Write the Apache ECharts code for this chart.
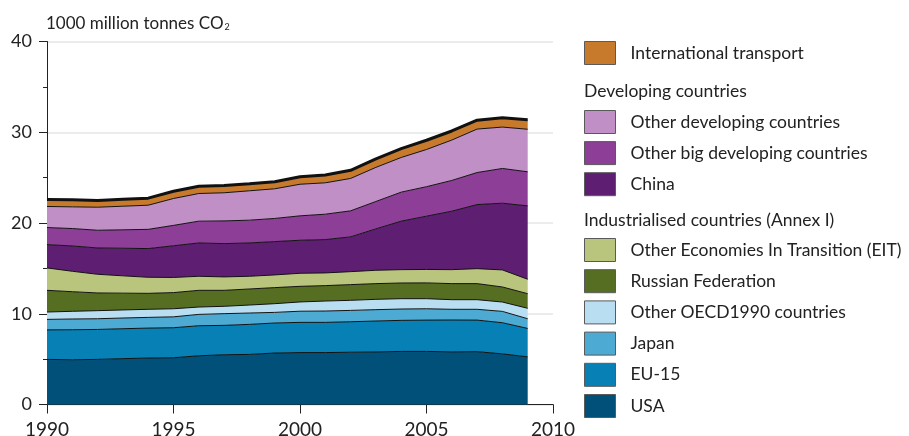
<!DOCTYPE html>
<html>
<head>
<meta charset="utf-8">
<script src="https://cdn.jsdelivr.net/npm/echarts@6/dist/echarts.min.js"></script>
<style>
  html, body { margin: 0; padding: 0; background: #ffffff; }
  #chart { width: 909px; height: 436px; }
</style>
</head>
<body>
<div id="chart"></div>
<script>
// Global CO2 emissions by region, 1000 million tonnes
var years = [1990, 1991, 1992, 1993, 1994, 1995, 1996, 1997, 1998, 1999,
             2000, 2001, 2002, 2003, 2004, 2005, 2006, 2007, 2008, 2009];
var axisEndYear = 2010;

var usa          = [4.97, 4.93, 4.97, 5.05, 5.12, 5.15, 5.37, 5.48, 5.52, 5.67, 5.72, 5.72, 5.76, 5.79, 5.85, 5.85, 5.80, 5.82, 5.58, 5.25];
var eu15         = [3.25, 3.31, 3.30, 3.30, 3.30, 3.31, 3.31, 3.24, 3.31, 3.31, 3.33, 3.33, 3.36, 3.41, 3.42, 3.45, 3.51, 3.48, 3.43, 3.13];
var japan        = [1.16, 1.18, 1.18, 1.18, 1.18, 1.20, 1.25, 1.29, 1.25, 1.17, 1.23, 1.25, 1.25, 1.25, 1.25, 1.25, 1.18, 1.19, 1.25, 1.07];
var otherOecd    = [0.81, 0.85, 0.89, 0.89, 0.89, 0.89, 0.81, 0.81, 0.88, 0.96, 1.02, 1.10, 1.11, 1.14, 1.14, 1.11, 1.06, 1.06, 1.03, 1.15];
var russia       = [2.39, 2.16, 1.95, 1.85, 1.76, 1.78, 1.84, 1.76, 1.77, 1.77, 1.72, 1.70, 1.73, 1.73, 1.73, 1.74, 1.77, 1.77, 1.66, 1.61];
var otherEit     = [2.47, 2.25, 2.06, 1.91, 1.77, 1.67, 1.55, 1.48, 1.40, 1.40, 1.44, 1.40, 1.43, 1.47, 1.47, 1.48, 1.54, 1.65, 1.88, 1.59];
var china        = [2.57, 2.79, 2.90, 3.04, 3.16, 3.49, 3.67, 3.67, 3.67, 3.67, 3.64, 3.67, 3.83, 4.56, 5.34, 5.87, 6.44, 7.06, 7.35, 8.09];
var otherBigDev  = [1.88, 1.92, 1.95, 2.03, 2.12, 2.25, 2.40, 2.50, 2.51, 2.55, 2.69, 2.80, 2.87, 3.02, 3.20, 3.25, 3.39, 3.53, 3.83, 3.75];
var otherDev     = [2.32, 2.39, 2.54, 2.60, 2.66, 2.96, 3.05, 3.10, 3.24, 3.27, 3.48, 3.46, 3.57, 3.76, 3.82, 4.10, 4.45, 4.79, 4.56, 4.69];
var intlTransport= [0.78, 0.77, 0.74, 0.76, 0.78, 0.80, 0.80, 0.80, 0.78, 0.78, 0.82, 0.86, 0.90, 0.94, 0.98, 1.02, 1.00, 0.98, 1.04, 1.05];

var yTicks = [0, 10, 20, 30, 40];

// stacking order: bottom to top
var layers = [
  { name: 'USA', values: usa, color: '#00507a' },
  { name: 'EU-15', values: eu15, color: '#0780b6' },
  { name: 'Japan', values: japan, color: '#4daad3' },
  { name: 'Other OECD1990 countries', values: otherOecd, color: '#b9def2' },
  { name: 'Russian Federation', values: russia, color: '#566e22' },
  { name: 'Other Economies In Transition (EIT)', values: otherEit, color: '#b9c47d' },
  { name: 'China', values: china, color: '#5e1f73' },
  { name: 'Other big developing countries', values: otherBigDev, color: '#8d3f98' },
  { name: 'Other developing countries', values: otherDev, color: '#bf8fc6' },
  { name: 'International transport', values: intlTransport, color: '#c77a2c' }
];

// category axis runs one year past the data so the 2010 tick is drawn
var axisYears = years.concat([axisEndYear]).map(String);

var FONT = 'Lato';
var INK = '#222222';

var series = layers.map(function (l, i) {
  var top = i === layers.length - 1;
  return {
    name: l.name,
    type: 'line',
    stack: 'total',
    data: l.values,
    showSymbol: false,
    symbol: 'none',
    color: l.color,
    itemStyle: { color: l.color },
    lineStyle: { color: '#111111', width: top ? 3 : 1 },
    areaStyle: { color: l.color, opacity: 1 },
    emphasis: { disabled: true },
    z: 2
  };
});

var legendBase = {
  orient: 'vertical',
  left: 584,
  padding: 0,
  icon: 'rect',
  itemWidth: 31,
  itemHeight: 23,
  selectedMode: false,
  itemStyle: { borderColor: '#5a5a5a', borderWidth: 1 },
  textStyle: { fontFamily: FONT, fontSize: 17.5, lineHeight: 20, color: INK, padding: [0, 0, 0, 10] }
};

function legend(top, gap, names) {
  return Object.assign({}, legendBase, { top: top, itemGap: gap, data: names });
}

var chart = echarts.init(document.getElementById('chart'), null, { renderer: 'canvas' });

chart.setOption({
  animation: false,
  backgroundColor: '#ffffff',
  grid: { left: 47, right: 356, top: 41.5, bottom: 31.5, containLabel: false, outerBoundsMode: 'none' },
  title: {
    text: '1000 million tonnes CO{sub|2}',
    left: 46, top: 15,
    padding: 0,
    textStyle: {
      fontFamily: FONT, fontSize: 17, fontWeight: 'normal', color: INK,
      rich: { sub: { fontFamily: FONT, fontSize: 9, color: INK, verticalAlign: 'bottom', padding: [7, 0, 0, 1] } }
    }
  },
  legend: [
    legend(41, 7, ['International transport']),
    legend(110, 7.1, ['Other developing countries', 'Other big developing countries', 'China']),
    legend(238, 7.2, ['Other Economies In Transition (EIT)', 'Russian Federation', 'Other OECD1990 countries', 'Japan', 'EU-15', 'USA'])
  ],
  graphic: [
    { type: 'text', left: 584, top: 82, style: { text: 'Developing countries', font: '17.5px ' + FONT, fill: INK } },
    { type: 'text', left: 584, top: 211, style: { text: 'Industrialised countries (Annex I)', font: '17.5px ' + FONT, fill: INK } }
  ],
  xAxis: {
    type: 'category',
    data: axisYears,
    boundaryGap: false,
    axisLine: { show: true, lineStyle: { color: INK, width: 1 } },
    axisTick: { show: true, length: 9, interval: 4, lineStyle: { color: INK } },
    axisLabel: { fontFamily: FONT, fontSize: 19, color: INK, margin: 16, interval: 4 },
    splitLine: { show: false }
  },
  yAxis: {
    type: 'value',
    min: yTicks[0],
    max: yTicks[yTicks.length - 1],
    interval: 10,
    axisLine: { show: true, lineStyle: { color: INK, width: 1 } },
    axisTick: { show: true, length: 8, lineStyle: { color: INK } },
    minorTick: { show: true, splitNumber: 2, length: 4, lineStyle: { color: INK } },
    axisLabel: { fontFamily: FONT, fontSize: 18, color: INK, margin: 15 },
    splitLine: { show: true, lineStyle: { color: '#e6e6e6', width: 1.5 } }
  },
  series: series
});
</script>
</body>
</html>
